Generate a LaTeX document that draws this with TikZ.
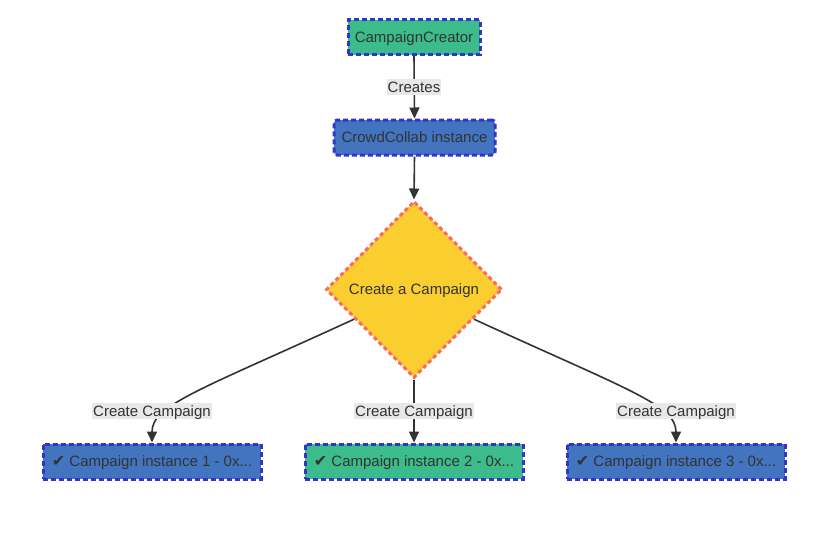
\documentclass[tikz,border=0pt]{standalone}
\usepackage{fontspec}
\setmainfont{Liberation Sans}
\newfontfamily\symfont{DejaVu Sans}
\usetikzlibrary{shapes.geometric,arrows.meta,calc}
\definecolor{cgreen}{HTML}{3CBB8D}
\definecolor{cblue}{HTML}{4274C0}
\definecolor{bordblue}{HTML}{3434C8}
\definecolor{cyellow}{HTML}{F9CE2E}
\definecolor{cred}{HTML}{FF6666}
\definecolor{txt}{HTML}{333333}
\definecolor{lblbg}{HTML}{E8E8E8}
\tikzset{
  box/.style={draw=bordblue, line width=3pt, dash pattern=on 5pt off 3pt,
    minimum height=35pt, inner xsep=3pt, inner ysep=0pt,
    text height=13pt, text depth=3pt,
    font=\fontsize{15}{18}\selectfont, text=txt},
  greenbox/.style={box, fill=cgreen},
  bluebox/.style={box, fill=cblue},
  decision/.style={diamond, aspect=1, fill=cyellow, draw=cred, line width=3pt,
    dash pattern=on 4pt off 3pt, inner sep=0pt, minimum width=176pt, minimum height=177pt,
    text height=13pt, text depth=3pt,
    font=\fontsize{15}{18}\selectfont, text=txt},
  conn/.style={draw=txt, line width=1.6pt, -{Triangle[length=11pt,width=10pt]}},
  lbl/.style={fill=lblbg, inner xsep=1pt, inner ysep=0.5pt, text=txt,
    text height=12.5pt, text depth=2.5pt,
    font=\fontsize{15}{18}\selectfont}
}
\newcommand{\chkmark}{{\symfont\fontsize{16}{18}\selectfont ✔}}
\begin{document}
\begin{tikzpicture}[x=1pt,y=-1pt]
\useasboundingbox (0,0) rectangle (838,546);
\node[greenbox, minimum width=132pt] (cc) at (414,37) {CampaignCreator};
\node[bluebox, minimum width=161pt, rounded corners=3pt] (crowd) at (414.5,137.5) {CrowdCollab instance};
\node[decision] (d) at (414,289.5) {Create a Campaign};
\node[bluebox, minimum width=218pt] (c1) at (152,461.5) {\chkmark\ Campaign instance 1 - 0x...};
\node[greenbox, minimum width=218pt] (c2) at (414,461.5) {\chkmark\ Campaign instance 2 - 0x...};
\node[bluebox, minimum width=218pt] (c3) at (676,461.5) {\chkmark\ Campaign instance 3 - 0x...};

\coordinate (d1) at ($(d.west)!0.33!(d.south)$);
\coordinate (d3) at ($(d.east)!0.33!(d.south)$);

\draw[conn] (cc.south) -- (crowd.north);
\node[lbl] at (414,87) {Creates};
\draw[conn] (crowd.south) -- (d.north);
\draw[conn] (d1) .. controls (200,390) and (152,405) .. (c1.north);
\draw[conn] (d.south) -- (c2.north);
\draw[conn] (d3) .. controls (628,390) and (676,405) .. (c3.north);
\node[lbl] at (152,411) {Create Campaign};
\node[lbl] at (414,411) {Create Campaign};
\node[lbl] at (676,411) {Create Campaign};
\end{tikzpicture}
\end{document}
